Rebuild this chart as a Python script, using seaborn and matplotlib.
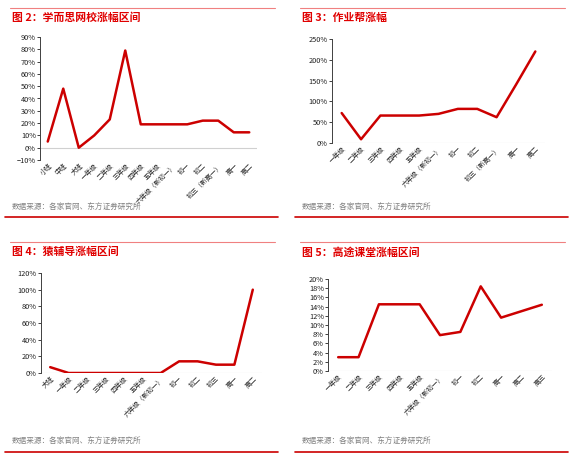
import matplotlib
matplotlib.use('Agg')
import matplotlib.pyplot as plt
import seaborn as sns
from matplotlib.lines import Line2D
from matplotlib.ticker import PercentFormatter

sns.set_style('white')
plt.rcParams['font.family'] = ['Noto Sans CJK SC', 'DejaVu Sans']

# 图2 学而思网校
xes_cats = ['小班', '中班', '大班', '一年级', '二年级', '三年级', '四年级', '五年级',
            '六年级（新初一）', '初一', '初二', '初三（新高一）', '高一', '高二']
xes_vals = [5, 48, 0, 10, 23, 79, 19, 19, 19, 19, 22, 22, 12.5, 12.5]

# 图3 作业帮
zyb_cats = ['一年级', '二年级', '三年级', '四年级', '五年级', '六年级（新初一）',
            '初一', '初二', '初三（新高一）', '高一', '高二']
zyb_vals = [72, 9, 66, 66, 66, 70, 82, 82, 62, 140, 220]

# 图4 猿辅导
yfd_cats = ['大班', '一年级', '二年级', '三年级', '四年级', '五年级', '六年级（新初一）',
            '初一', '初二', '初三', '高一', '高二']
yfd_vals = [7, 0, 0, 0, 0, 0, 0, 14, 14, 10, 10, 100]

# 图5 高途课堂
gt_cats = ['一年级', '二年级', '三年级', '四年级', '五年级', '六年级（新初一）',
           '初一', '初二', '高一', '高二', '高三']
gt_vals = [3, 3, 14.5, 14.5, 14.5, 7.8, 8.5, 18.4, 11.6, 13, 14.4]

W, H = 580, 463
fig = plt.figure(figsize=(W / 100, H / 100), dpi=100)
fig.patch.set_facecolor('white')

red = '#cc0000'
title_red = '#e00000'
source = '数据来源：各家官网、东方证券研究所'


def px_axes(l, t, r, b):
    return fig.add_axes([l / W, 1 - b / H, (r - l) / W, (b - t) / H])


def hline(x0, x1, y, color, lw):
    fig.add_artist(Line2D([x0 / W, x1 / W], [1 - y / H, 1 - y / H],
                          color=color, lw=lw, transform=fig.transFigure))


def panel(box, frame, title, cats, vals, ylim, step):
    ax = px_axes(*box)
    x0, x1, ytop, ysrc, ybot = frame
    hline(x0, x1, ytop, '#f08080', 0.8)
    hline(x0 - 5, x1 + 3, ybot, red, 1.2)
    fig.text((x0 + 2) / W, 1 - (ytop + 10) / H, title, color=title_red,
             fontsize=7.8, fontweight='bold', va='center', ha='left')
    fig.text((x0 + 2) / W, 1 - ysrc / H, source, color='#808080',
             fontsize=5.5, va='center', ha='left')

    idx = list(range(len(cats)))
    sns.lineplot(x=idx, y=vals, ax=ax, color=red, lw=1.8)
    ax.axhline(0, color='#d0d0d0', lw=0.8, zorder=0)
    ax.set_xlim(-0.5, len(cats) - 0.5)
    ax.set_ylim(*ylim)
    ticks = list(range(ylim[0], ylim[1] + 1, step))
    ax.set_yticks(ticks)
    ax.yaxis.set_major_formatter(PercentFormatter(decimals=0))
    ax.set_xticks(idx)
    ax.set_xticklabels(cats, rotation=45, ha='right', rotation_mode='anchor')
    for s in ['top', 'right', 'bottom']:
        ax.spines[s].set_visible(False)
    ax.spines['left'].set_color('#404040')
    ax.spines['left'].set_linewidth(0.7)
    ax.tick_params(axis='y', left=True, length=2, width=0.6, pad=1,
                   labelsize=5.3, colors='#202020')
    ax.tick_params(axis='x', bottom=False, length=0, pad=1.5, labelsize=4.8,
                   colors='#202020')
    ax.set_facecolor('none')
    return ax


panel((40, 37, 257, 160), (10, 275, 8, 208, 217),
      '图 2：学而思网校涨幅区间', xes_cats, xes_vals, (-10, 90), 10)
panel((332, 39, 545, 143), (300, 565, 8, 208, 217),
      '图 3：作业帮涨幅', zyb_cats, zyb_vals, (0, 250), 50)
panel((41, 273, 262, 373), (10, 275, 242, 442, 452),
      '图 4：猿辅导涨幅区间', yfd_cats, yfd_vals, (0, 120), 20)
panel((328, 279, 552, 371), (300, 565, 242, 442, 452),
      '图 5：高途课堂涨幅区间', gt_cats, gt_vals, (0, 20), 2)

fig.savefig('out.png', dpi=100, facecolor='white')
